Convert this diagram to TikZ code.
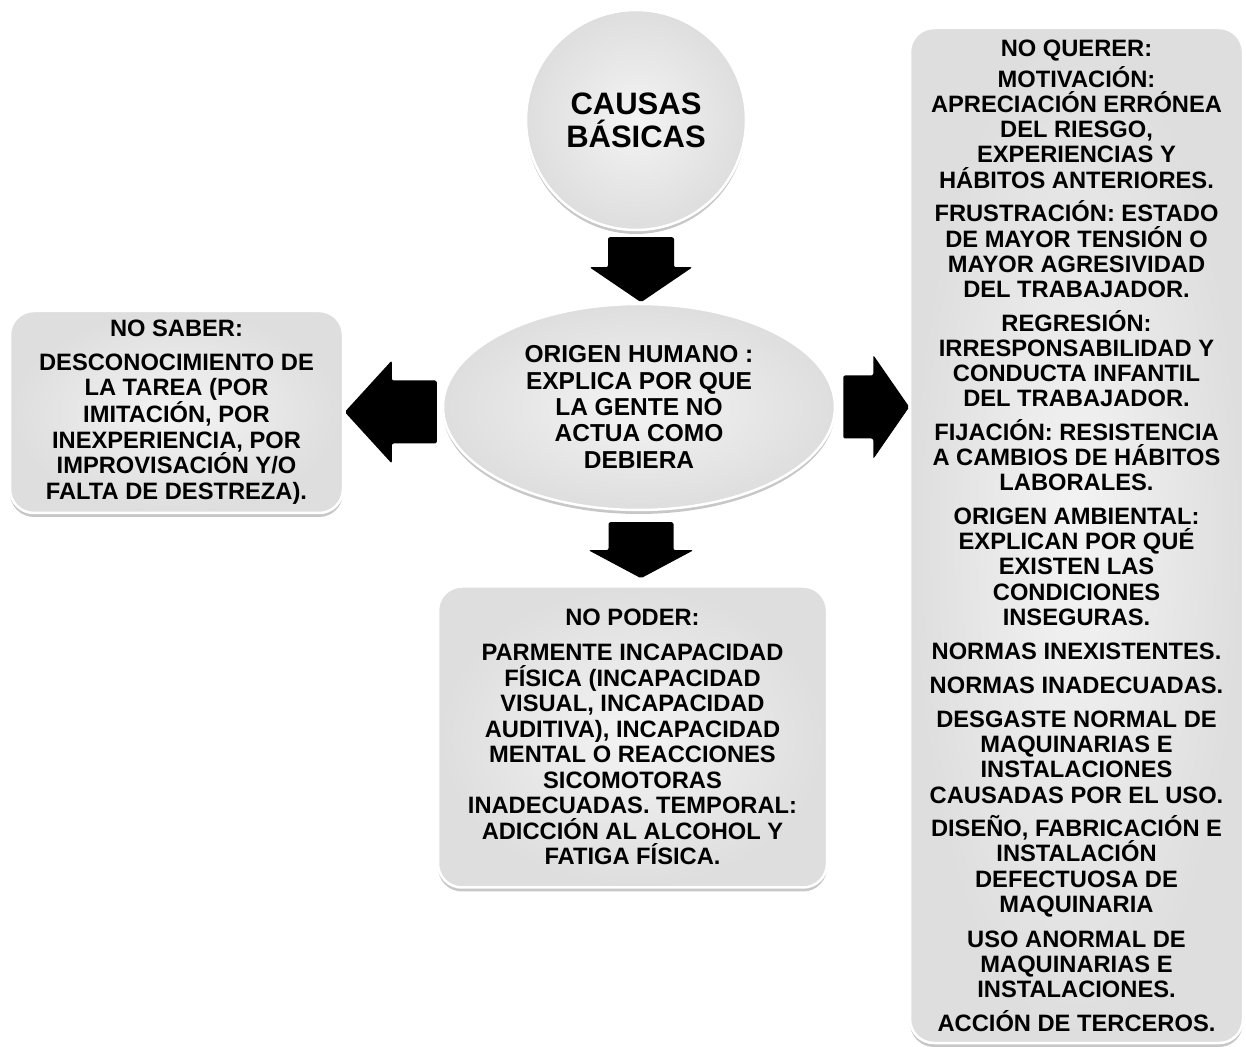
\documentclass[tikz,border=0pt]{standalone}
\usepackage{fontspec}
\setmainfont{Liberation Sans}
\usetikzlibrary{shapes.geometric,shadows,calc}

\tikzset{
  shapefill/.style={draw=white, line width=2.5pt, inner color=gray!9, outer color=gray!26,
    drop shadow={shadow xshift=0pt, shadow yshift=-4pt, opacity=0.22, fill=black}},
  boxtext/.style={font=\bfseries\fontsize{23.7}{25.5}\selectfont, align=center, inner sep=0pt},
  card/.style={shapefill, boxtext, rectangle, rounded corners=24pt},
  arrowfill/.style={fill=black, rounded corners=2pt},
}

% solid block arrow: #1 tail point, #2 direction, #3 length, #4 head length,
% #5 half shaft width, #6 half head width
\newcommand\fatarrow[6]{%
  \fill[arrowfill, shift={#1}, rotate=#2]
    (0,-#5) -- ({#3-#4},-#5) -- ({#3-#4},-#6) -- (#3,0)
    -- ({#3-#4},#6) -- ({#3-#4},#5) -- (0,#5) -- cycle;}

\begin{document}
\begin{tikzpicture}[x=1pt,y=1pt]
  \useasboundingbox (0,0) rectangle (1246,1046);

  % main nodes
  \node[shapefill, circle, minimum size=220pt, inner sep=0pt,
        font=\bfseries\fontsize{31}{33}\selectfont, align=center]
    (causas) at (636,926) {CAUSAS\\BÁSICAS};

  \node[shapefill, ellipse, minimum width=392pt, minimum height=206pt, inner sep=0pt,
        font=\bfseries\fontsize{24.5}{26.3}\selectfont, align=center]
    (origen) at (639,639) {ORIGEN HUMANO :\\EXPLICA POR QUE\\LA GENTE NO\\ACTUA COMO\\DEBIERA};

  \node[card, minimum width=333pt, minimum height=202pt] (saber) at (176.5,634)
    {NO SABER:\\[8.5pt]
     DESCONOCIMIENTO DE\\LA TAREA (POR\\IMITACIÓN, POR\\INEXPERIENCIA, POR\\IMPROVISACIÓN Y/O\\FALTA DE DESTREZA).};

  \node[card, minimum width=389pt, minimum height=301pt] (poder) at (632.5,309)
    {NO PODER:\\[9.5pt]
     PARMENTE INCAPACIDAD\\FÍSICA (INCAPACIDAD\\VISUAL, INCAPACIDAD\\AUDITIVA), INCAPACIDAD\\MENTAL O REACCIONES\\SICOMOTORAS\\INADECUADAS. TEMPORAL:\\ADICCIÓN AL ALCOHOL Y\\FATIGA FÍSICA.};

  \node[card, minimum width=333pt, minimum height=1015pt,
        font=\bfseries\fontsize{23.7}{25.2}\selectfont] (querer) at (1076.5,510.5)
    {NO QUERER:\\[4.5pt]
     MOTIVACIÓN:\\APRECIACIÓN ERRÓNEA\\DEL RIESGO,\\EXPERIENCIAS Y\\HÁBITOS ANTERIORES.\\[8.5pt]
     FRUSTRACIÓN: ESTADO\\DE MAYOR TENSIÓN O\\MAYOR AGRESIVIDAD\\DEL TRABAJADOR.\\[8.5pt]
     REGRESIÓN:\\IRRESPONSABILIDAD Y\\CONDUCTA INFANTIL\\DEL TRABAJADOR.\\[8.5pt]
     FIJACIÓN: RESISTENCIA\\A CAMBIOS DE HÁBITOS\\LABORALES.\\[8.5pt]
     ORIGEN AMBIENTAL:\\EXPLICAN POR QUÉ\\EXISTEN LAS\\CONDICIONES\\INSEGURAS.\\[8.5pt]
     NORMAS INEXISTENTES.\\[9.5pt]
     NORMAS INADECUADAS.\\[8.5pt]
     DESGASTE NORMAL DE\\MAQUINARIAS E\\INSTALACIONES\\CAUSADAS POR EL USO.\\[8.5pt]
     DISEÑO, FABRICACIÓN E\\INSTALACIÓN\\DEFECTUOSA DE\\MAQUINARIA\\[9.5pt]
     USO ANORMAL DE\\MAQUINARIAS E\\INSTALACIONES.\\[8.5pt]
     ACCIÓN DE TERCEROS.};

  % arrow tails, placed off the node borders
  \coordinate (t1) at ($(causas.south)+(5,-6)$);
  \coordinate (t2) at ($(origen.south)+(2,-11)$);
  \coordinate (t3) at ($(origen.west)+(-5,-5)$);
  \coordinate (t4) at ($(origen.east)+(7,0)$);

  % block arrows
  \fatarrow{(t1)}{-90}{65}{35}{33}{51.5}
  \fatarrow{(t2)}{-90}{56}{28}{32.5}{52.5}
  \fatarrow{(t3)}{180}{92}{47}{31.5}{51.5}
  \fatarrow{(t4)}{0}{66}{36}{31.5}{52}
\end{tikzpicture}
\end{document}
